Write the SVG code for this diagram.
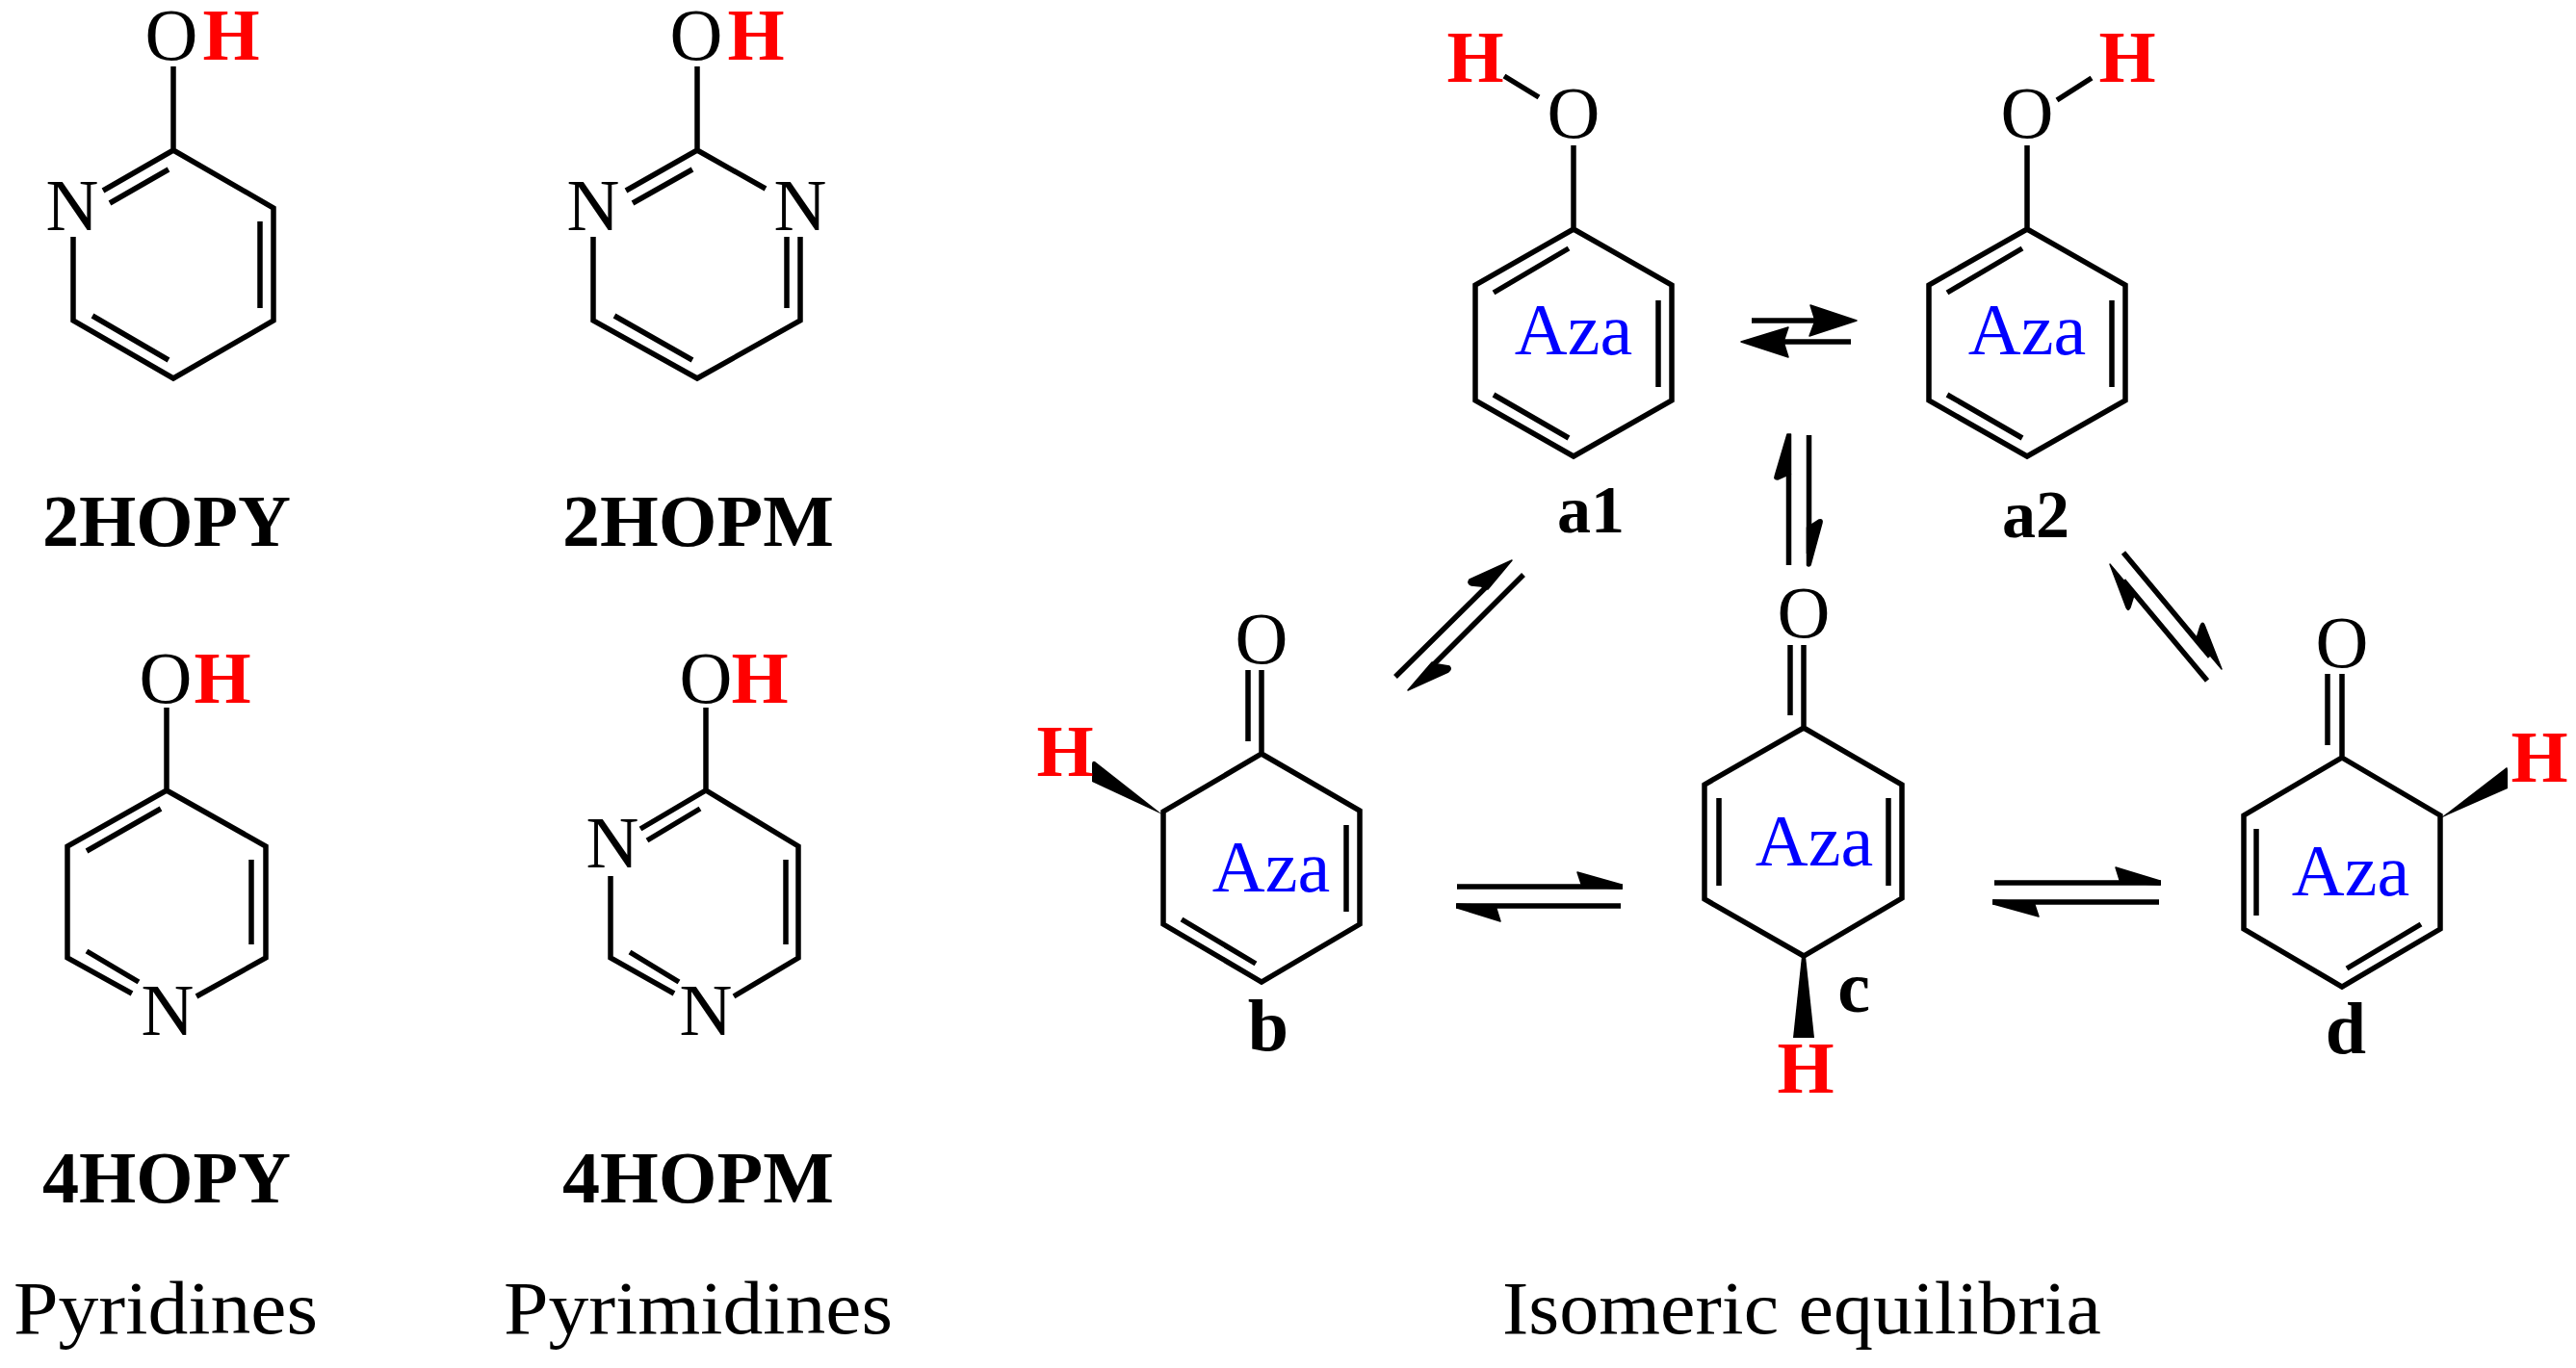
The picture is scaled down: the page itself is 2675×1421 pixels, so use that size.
<svg xmlns="http://www.w3.org/2000/svg" width="2675" height="1421" viewBox="0 0 2675 1421">
<style>
text{font-family:"Liberation Serif","Times New Roman",serif;text-anchor:middle}
.a{font-size:76px;fill:#000}
.h{font-size:76px;font-weight:bold;fill:#f00}
.z{font-size:76px;fill:#00f}
.l{font-size:76px;font-weight:bold;fill:#000}
.s{font-size:70px;font-weight:bold;fill:#000}
.c{font-size:78px;fill:#000}
.b{fill:none;stroke:#000;stroke-width:5.500;stroke-linejoin:miter}
.w{fill:#000;stroke:none}
.r{fill:none;stroke:#000;stroke-width:5.500}
.t{fill:#000;stroke:#000;stroke-width:1.500;stroke-linejoin:round}
</style>
<rect width="2675" height="1421" fill="#fff"/>
<g id="mol-2HOPY">
<path class="b" d="M180,69V156M107,198L180,156L284,216V333L180,393L76,333V246M175,176L114,211M270,230V320M96,328L175,374"/>
<text class="a" x="178" y="62">O</text><text class="h" x="240" y="62">H</text><text class="a" x="75" y="239">N</text>
<text class="l" x="173" y="567" textLength="258" lengthAdjust="spacingAndGlyphs">2HOPY</text>
</g>
<g id="mol-2HOPM">
<path class="b" d="M724,69V156M650,198L724,156L795,196M616,246V333L724,393L831,333V246M719,176L657,211M817,246V320M638,328L719,374"/>
<text class="a" x="723" y="62">O</text><text class="h" x="785" y="62">H</text><text class="a" x="616" y="239">N</text><text class="a" x="831" y="239">N</text>
<text class="l" x="725" y="567" textLength="282" lengthAdjust="spacingAndGlyphs">2HOPM</text>
</g>
<g id="mol-4HOPY">
<path class="b" d="M173,735V821M137,1032L70,995V879L173,821L276,879V995L204,1035M167,840L90,884M261,893V981M90,988L144,1020"/>
<text class="a" x="172" y="730">O</text><text class="h" x="231" y="730">H</text><text class="a" x="174" y="1075">N</text>
<text class="l" x="173" y="1249" textLength="258" lengthAdjust="spacingAndGlyphs">4HOPY</text>
</g>
<g id="mol-4HOPM">
<path class="b" d="M733,735V821M665,861L733,821L829,879V995L762,1035M634,910V995L700,1032M727,840L672,873M816,893V981M654,989L705,1020"/>
<text class="a" x="733" y="730">O</text><text class="h" x="789" y="730">H</text><text class="a" x="636" y="901">N</text><text class="a" x="733" y="1075">N</text>
<text class="l" x="725" y="1249" textLength="282" lengthAdjust="spacingAndGlyphs">4HOPM</text>
</g>
<g id="captions">
<text class="c" x="172" y="1385" textLength="316" lengthAdjust="spacingAndGlyphs">Pyridines</text>
<text class="c" x="725" y="1385" textLength="404" lengthAdjust="spacingAndGlyphs">Pyrimidines</text>
<text class="c" x="1871" y="1385" textLength="622" lengthAdjust="spacingAndGlyphs">Isomeric equilibria</text>
</g>
<g id="mol-a1">
<path class="b" d="M1634,151V238M1562,79L1598,101M1634,238L1736,296V416L1634,474L1532,416V296ZM1629,258L1551,304M1722,312V402M1551,410L1629,455"/>
<text class="a" x="1634" y="143">O</text><text class="h" x="1532" y="85">H</text><text class="z" x="1634" y="368">Aza</text>
<text class="s" x="1652" y="553">a1</text>
</g>
<g id="mol-a2">
<path class="b" d="M2105,151V238M2136,104L2172,81M2105,238L2207,296V416L2105,474L2003,416V296ZM2100,258L2022,304M2193,312V402M2022,410L2100,455"/>
<text class="a" x="2105" y="143">O</text><text class="h" x="2209" y="85">H</text><text class="z" x="2105" y="368">Aza</text>
<text class="s" x="2114" y="558">a2</text>
</g>
<g id="mol-b">
<path class="b" d="M1310,696V783M1296,696V770M1310,783L1412,842V960L1310,1020L1208,960V843ZM1398,857V947M1227,955L1304,1001"/>
<path class="w" d="M1207,846L1137,791Q1134,790 1134,794V812Z"/>
<text class="a" x="1310" y="689">O</text><text class="h" x="1106" y="806">H</text><text class="z" x="1320" y="926">Aza</text>
<text class="l" x="1317" y="1091">b</text>
</g>
<g id="mol-c">
<path class="b" d="M1873,670V756M1859,670V743M1873,756L1975,815V933L1873,993L1770,934V815ZM1785,829V920M1961,829V920"/>
<path class="w" d="M1871,993H1875L1884,1078H1862Z"/>
<text class="a" x="1873" y="662">O</text><text class="h" x="1875" y="1135">H</text><text class="z" x="1884" y="899">Aza</text>
<text class="l" x="1925" y="1051">c</text>
</g>
<g id="mol-d">
<path class="b" d="M2432,700V787M2417,700V774M2432,787L2534,847V965L2432,1025L2330,965V847ZM2343,861V951M2514,960L2437,1006"/>
<path class="w" d="M2534,850L2603,797Q2604,797 2604,800V819Z"/>
<text class="a" x="2432" y="693">O</text><text class="h" x="2637" y="812">H</text><text class="z" x="2441" y="930">Aza</text>
<text class="l" x="2436" y="1094">d</text>
</g>
<g id="connectors">
<path class="r" d="M1819,333H1888M1922,355H1852"/>
<path class="t" d="M1928,333L1880,317L1885,333L1879,349Z"/>
<path class="t" d="M1808,355L1857,340L1852,355L1857,371Z"/>
<path class="r" d="M1857.500,492V587M1878.500,452V575"/>
<path class="t" d="M1859.500,451H1856L1843,495Q1842,498 1846,498L1859.500,492Z"/>
<path class="t" d="M1876.500,587Q1878,589 1880,587L1892,543Q1893,539 1889,540L1876.500,548Z"/>
<path class="r" d="M1449,703L1545,608M1582,597L1485,694"/>
<path class="t" d="M1570,582L1526,602Q1523,606 1528,608L1538,609L1545,612Z"/>
<path class="t" d="M1462,717L1504,698Q1508,695 1505,692L1493,690L1487,688Z"/>
<path class="r" d="M2292,707L2205,603M2205,574L2295,682"/>
<path class="t" d="M2191,586L2208,631Q2210,636 2212,631L2216,618L2213,612Z"/>
<path class="t" d="M2307,695L2289,649Q2287,645 2285,650L2281,663L2285,669Z"/>
<path class="r" d="M1513,921H1685M1683,941H1512"/>
<path class="t" d="M1684,923V919L1638,906L1643,921Z"/>
<path class="t" d="M1513,939V943L1558,957L1553,941Z"/>
<path class="r" d="M2071,917H2244M2242,937H2069"/>
<path class="t" d="M2243,919V915L2197,901L2202,917Z"/>
<path class="t" d="M2070,935V939L2117,952L2112,937Z"/>
</g>
</svg>
